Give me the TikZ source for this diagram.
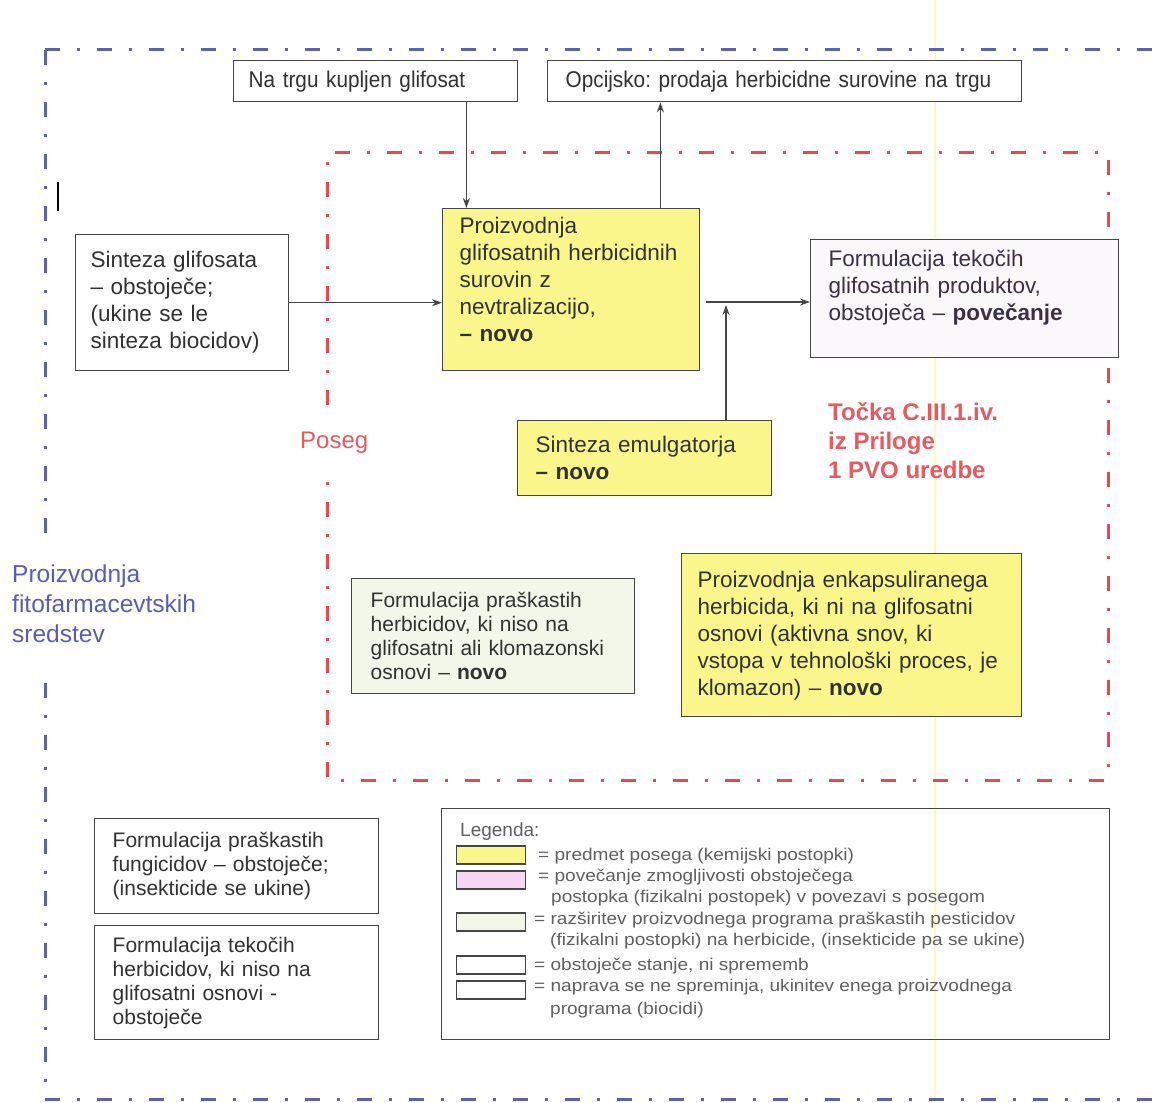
\documentclass[tikz,border=0pt]{standalone}
\usepackage{fontspec}
\setmainfont{Liberation Sans}
\newfontfamily\narrowf[FakeStretch=0.91]{Liberation Sans}
\newfontfamily\widef[FakeStretch=1.12]{Liberation Sans}
\usetikzlibrary{arrows.meta}
\frenchspacing
\definecolor{ybox}{RGB}{250,246,140}
\definecolor{pinkbox}{RGB}{246,214,240}
\definecolor{greenbox}{RGB}{242,247,234}
\definecolor{lavbox}{RGB}{251,248,251}
\definecolor{lineg}{RGB}{70,70,70}
\definecolor{txtg}{RGB}{50,50,50}
\definecolor{txtp}{RGB}{60,48,68}
\definecolor{legg}{RGB}{95,95,95}
\definecolor{bluel}{RGB}{96,96,176}
\definecolor{bluet}{RGB}{92,92,182}
\definecolor{redl}{RGB}{236,72,82}
\definecolor{redt}{RGB}{234,88,96}
\definecolor{scanyel}{RGB}{252,246,200}
\begin{document}
\begin{tikzpicture}[x=1pt,y=-1pt,
  box/.style={draw=lineg, line width=1.4pt, anchor=north west, align=left, inner ysep=0pt, text=txtg},
  fA/.style={font=\fontsize{22.5}{27}\selectfont},
  fB/.style={font=\fontsize{21}{24}\selectfont},
  fN/.style={font=\narrowf\fontsize{22.8}{27}\selectfont},
  fL/.style={font=\widef\fontsize{17}{21}\selectfont, text=legg, anchor=west, inner sep=0pt},
  swatch/.style={draw=lineg, line width=1.3pt, minimum width=69pt, minimum height=18pt, inner sep=0pt, anchor=west},
  arr/.style={draw=lineg, line width=1.3pt, -{Stealth[length=10pt,width=7pt]}},
  bluedash/.style={draw=bluel, line width=3pt, dash pattern=on 15pt off 17pt on 3pt off 17pt},
  reddash/.style={draw=redl, line width=3pt, dash pattern=on 15pt off 17pt on 3pt off 17pt},
]
\useasboundingbox (0,0) rectangle (1166,1102);
\fill[white] (0,0) rectangle (1166,1102);
% scan artefacts
\draw[scanyel, line width=2.5pt] (935,0) -- (935,1102);
\draw[black, line width=1.5pt] (58,182) -- (58,211);

% outer blue frame
\draw[bluedash] (45,50) -- (1166,50);
\draw[bluedash] (45,50) -- (45,535);
\draw[bluedash] (45,683) -- (45,1092);
\draw[bluedash] (45,1099) -- (1166,1099);
\node[anchor=north west, inner sep=0pt, align=left, text=bluet, font=\fontsize{24.5}{30}\selectfont] (fito) at (12,565) {Proizvodnja\\fitofarmacevtskih\\sredstev};

% red frame
\draw[reddash] (327,405) -- (327,153) -- (1108,153) -- (1108,780) -- (327,780) -- (327,482);
\node[anchor=west, inner sep=0pt, text=redt, font=\fontsize{24}{29}\selectfont] (poseg) at (300,443) {Poseg};
\node[anchor=north west, inner sep=0pt, align=left, text=redt, font=\bfseries\fontsize{24}{29}\selectfont] (tocka) at (828,402) {Točka C.III.1.iv.\\iz Priloge\\1 PVO uredbe};

% top boxes
\node[box, fN, fill=white, inner xsep=15pt, text width=254pt, minimum height=41pt] (natrgu) at (233,60) {\mbox{Na trgu kupljen glifosat}};
\node[box, fN, fill=white, inner xsep=18pt, text width=438pt, minimum height=41pt] (opc) at (547,60) {\mbox{Opcijsko: prodaja herbicidne surovine na trgu}};

% process boxes
\node[box, fA, fill=white, inner xsep=15pt, text width=183pt, minimum height=136pt] (sinteza) at (75,234) {Sinteza glifosata\\– obstoječe;\\(ukine se le\\sinteza biocidov)\\[-21pt]\mbox{}};
\node[box, fA, fill=ybox, inner xsep=17pt, text width=223pt, minimum height=162pt] (prod) at (442,208) {Proizvodnja\\glifosatnih herbicidnih\\surovin z\\nevtralizacijo,\\\textbf{– novo}\\[-6pt]\mbox{}};
\node[box, fA, fill=lavbox, text=txtp, inner xsep=18pt, text width=272pt, minimum height=118pt] (form) at (810,239) {Formulacija tekočih\\glifosatnih produktov,\\obstoječa – \textbf{povečanje}\\\mbox{}};
\node[box, fA, fill=ybox, inner xsep=18pt, text width=218pt, minimum height=75pt] (emul) at (517,420) {Sinteza emulgatorja\\\textbf{– novo}};
\node[box, fB, fill=greenbox, inner xsep=19pt, text width=245pt, minimum height=115pt] (prask) at (351,578) {Formulacija praškastih\\herbicidov, ki niso na\\glifosatni ali klomazonski\\osnovi – \textbf{novo}};
\node[box, fA, fill=ybox, inner xsep=16pt, text width=308pt, minimum height=163pt] (enkap) at (681,553) {Proizvodnja enkapsuliranega\\herbicida, ki ni na glifosatni\\osnovi (aktivna snov, ki\\vstopa v tehnološki proces, je\\klomazon) – \textbf{novo}};
\node[box, fB, fill=white, inner xsep=18pt, text width=248pt, minimum height=95pt] (fung) at (94,818) {Formulacija praškastih\\fungicidov – obstoječe;\\(insekticide se ukine)};
\node[box, fB, fill=white, inner xsep=18pt, text width=248pt, minimum height=114pt] (tekherb) at (94,925) {Formulacija tekočih\\herbicidov, ki niso na\\glifosatni osnovi -\\obstoječe};

% connectors
\coordinate (jn) at (726,302);
\draw[arr] ([xshift=-52pt]natrgu.south east) -- ([xshift=-52pt]natrgu.south east |- prod.north);
\draw[arr] ([xshift=-40pt]prod.north east) -- ([xshift=-40pt]prod.north east |- opc.south);
\draw[arr] (sinteza.east) -- (sinteza.east -| prod.west);
\draw[arr] ([xshift=6pt]prod.east |- jn) -- (jn -| form.west);
\draw[arr] (emul.north -| jn) -- ([yshift=-3pt]jn);

% legend
\node[draw=lineg, line width=1.4pt, anchor=north west, minimum width=668pt, minimum height=231pt, inner sep=0pt] (legend) at (441,808) {};
\node[anchor=west, inner sep=0pt, text=legg, font=\fontsize{19}{22}\selectfont] (legt) at (460,832) {Legenda:};
\node[swatch, fill=ybox] (sw1) at (456,855) {};
\node[swatch, fill=pinkbox] (sw2) at (456,880) {};
\node[swatch, fill=greenbox] (sw3) at (456,922) {};
\node[swatch, fill=white] (sw4) at (456,965) {};
\node[swatch, fill=white] (sw5) at (456,990) {};
\node[fL] (l1) at (538,856) {= predmet posega (kemijski postopki)};
\node[fL] (l2) at (538,877) {= povečanje zmogljivosti obstoječega};
\node[fL] (l2b) at (551,898) {postopka (fizikalni postopek) v povezavi s posegom};
\node[fL] (l3) at (534,920) {= razširitev proizvodnega programa praškastih pesticidov};
\node[fL] (l3b) at (550,941) {(fizikalni postopki) na herbicide, (insekticide pa se ukine)};
\node[fL] (l4) at (534,966) {= obstoječe stanje, ni sprememb};
\node[fL] (l5) at (534,987) {= naprava se ne spreminja, ukinitev enega proizvodnega};
\node[fL] (l5b) at (550,1010) {programa (biocidi)};
\end{tikzpicture}
\end{document}
